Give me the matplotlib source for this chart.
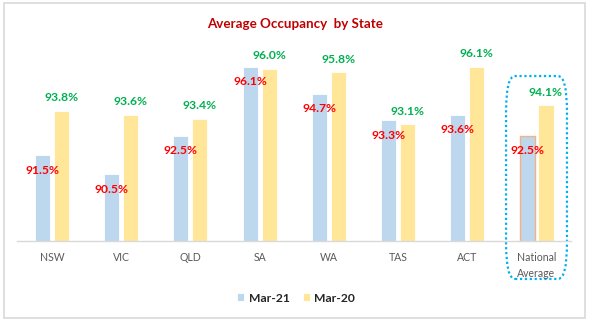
import numpy as np
import matplotlib
matplotlib.use('Agg')
import matplotlib.pyplot as plt
import matplotlib.transforms as mtransforms
from matplotlib.patches import FancyBboxPatch, Rectangle

# 데이터
states = ['NSW', 'VIC', 'QLD', 'SA', 'WA', 'TAS', 'ACT', 'National\nAverage']
mar21 = [91.5, 90.5, 92.5, 96.1, 94.7, 93.3, 93.6, 92.5]
mar20 = [93.8, 93.6, 93.4, 96.0, 95.8, 93.1, 96.1, 94.1]

blue = '#BDD7EE'
yellow = '#FFE699'

plt.rcParams['font.family'] = ['Lato', 'DejaVu Sans']

fig = plt.figure(figsize=(5.9, 3.25), dpi=100)
ax = fig.add_axes([0.0295, 0.2585, 0.9385, 0.649])

x = np.arange(len(states))
w = 0.217
off = 0.137

b1 = ax.bar(x - off, mar21, w, color=blue, edgecolor='white', linewidth=0.6, label='Mar-21')
b2 = ax.bar(x + off, mar20, w, color=yellow, edgecolor='white', linewidth=0.6, label='Mar-20')
# 전국 평균 막대 강조
b1[-1].set_edgecolor('#F4B183')
b1[-1].set_linewidth(1.0)

for xi, v in zip(x, mar21):
    ax.annotate(f'{v:.1f}%', (xi - off, v), xytext=(0, -15), textcoords='offset pixels',
                ha='center', va='center', color='#FF0000', fontsize=8.7, fontweight='bold')
for xi, v in zip(x, mar20):
    ax.annotate(f'{v:.1f}%', (xi + off, v), xytext=(0, 13), textcoords='offset pixels',
                ha='center', va='center', color='#00B050', fontsize=8.7, fontweight='bold')

ax.set_ylim(87.03, 98.0)
ax.set_xlim(-0.5, len(states) - 0.5)
ax.set_yticks([])
ax.set_xticks(x)
ax.set_xticklabels(states, color='#595959', fontsize=7.6, linespacing=1.5)
ax.tick_params(axis='x', length=0, pad=8)
for s in ['top', 'right', 'left']:
    ax.spines[s].set_visible(False)
ax.spines['bottom'].set_color('#D9D9D9')
ax.spines['bottom'].set_linewidth(1.0)

# 점선 박스
trans = mtransforms.blended_transform_factory(ax.transData, ax.transAxes)
box = FancyBboxPatch((len(states) - 1 - 0.44, -0.18), 0.88, 0.962,
                     boxstyle='round,pad=0.0,rounding_size=0.13',
                     transform=trans, fill=False, edgecolor='#00B0F0',
                     linestyle=(0, (1, 1.2)), linewidth=1.6, clip_on=False,
                     mutation_aspect=1.3)
ax.add_patch(box)

fig.text(0.5, 0.926, 'Average Occupancy  by State', ha='center', va='center',
         color='#C00000', fontsize=9.6, fontweight='bold')

fig.legend(handles=[b1, b2], labels=['Mar-21', 'Mar-20'], loc='center',
           bbox_to_anchor=(0.502, 0.083), ncol=2, frameon=False,
           handlelength=0.6, handleheight=0.6, handletextpad=0.35, columnspacing=1.1,
           prop={'size': 8.7, 'weight': 'bold'}, labelcolor='#262626')

fig.patches.append(Rectangle((0.006, 0.022), 0.985, 0.968, transform=fig.transFigure,
                             fill=False, edgecolor='#D9D9D9', linewidth=1.2))

plt.savefig('out.png', dpi=100)
